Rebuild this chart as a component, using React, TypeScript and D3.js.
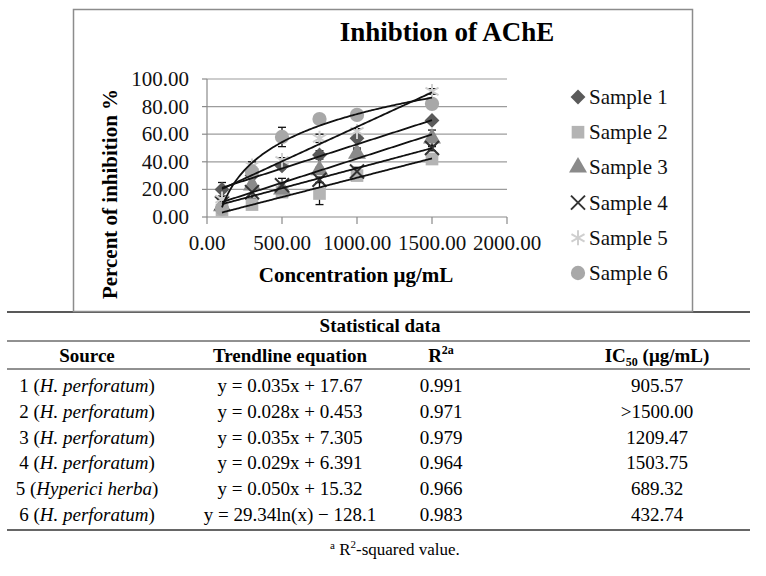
import { useRef, useEffect } from 'react';
import * as d3 from 'd3';

// ---------------------------------------------------------------------------
// Data
// ---------------------------------------------------------------------------
const CONCENTRATIONS = [100, 300, 500, 750, 1000, 1500];
const SAMPLE_NAMES = ['Sample 1', 'Sample 2', 'Sample 3', 'Sample 4', 'Sample 5', 'Sample 6'];

const SAMPLE_1 = [20, 30, 37, 45, 57, 70];
const SAMPLE_2 = [5, 9, 18, 17, 30, 42];
const SAMPLE_3 = [8, 23, 20, 34, 46, 57];
const SAMPLE_4 = [10, 18, 23, 27, 33, 50];
const SAMPLE_5 = [13, 37, 41, 57, 62, 91];
const SAMPLE_6 = [6, 33, 58, 71, 74, 82];

const ERR_1 = [5, 2, 2, 3, 7, 2];
const ERR_2 = [2, 2, 2, 8, 2, 2];
const ERR_3 = [2, 2, 2, 2, 3, 6];
const ERR_4 = [2, 4.5, 5, 2, 3, 2];
const ERR_5 = [2, 3, 2, 3, 2, 2];
const ERR_6 = [2, 2, 7, 2, 2, 2];

// linear trendlines (samples 1-5), log trendline (sample 6)
const SLOPES = [0.035, 0.028, 0.035, 0.029, 0.05];
const INTERCEPTS = [17.67, 0.453, 7.305, 6.391, 15.32];
const LOG_COEF = 29.34;
const LOG_CONST = -128.1;

const X_TICKS = [0, 500, 1000, 1500, 2000];
const Y_TICKS = [0, 20, 40, 60, 80, 100];

// table
const SOURCE_NUM = ['1', '2', '3', '4', '5', '6'];
const SOURCE_NAME = ['H. perforatum', 'H. perforatum', 'H. perforatum', 'H. perforatum', 'Hyperici herba', 'H. perforatum'];
const EQUATIONS = [
  'y = 0.035x + 17.67',
  'y = 0.028x + 0.453',
  'y = 0.035x + 7.305',
  'y = 0.029x + 6.391',
  'y = 0.050x + 15.32',
  'y = 29.34ln(x) \u2212 128.1',
];
const R2_VALUES = ['0.991', '0.971', '0.979', '0.964', '0.966', '0.983'];
const IC50_VALUES = ['905.57', '>1500.00', '1209.47', '1503.75', '689.32', '432.74'];

// ---------------------------------------------------------------------------
// Styles
// ---------------------------------------------------------------------------
const FONT = "'Liberation Serif', 'Times New Roman', serif";
const GRID = '#9c9c9c';
const AXIS = '#8a8a8a';

type Marker = { symbol: d3.SymbolType; size: number; fill: string; stroke: string; rotate: number };
const MARKERS: Marker[] = [
  { symbol: d3.symbolSquare, size: 110, fill: '#5a5a5a', stroke: 'none', rotate: 45 },
  { symbol: d3.symbolSquare, size: 160, fill: '#b4b4b4', stroke: 'none', rotate: 0 },
  { symbol: d3.symbolTriangle, size: 140, fill: '#8a8a8a', stroke: 'none', rotate: 0 },
  { symbol: d3.symbolX, size: 130, fill: 'none', stroke: '#333333', rotate: 0 },
  { symbol: d3.symbolAsterisk, size: 160, fill: 'none', stroke: '#cfcfcf', rotate: 0 },
  { symbol: d3.symbolCircle, size: 160, fill: '#a8a8a8', stroke: 'none', rotate: 0 },
];

function ChartAndTable() {
  const svgRef = useRef<SVGSVGElement>(null);

  useEffect(() => {
    const svgEl = svgRef.current;
    if (!svgEl) return;
    const svg = d3.select(svgEl);
    svg.selectAll('*').remove();

    const series = [SAMPLE_1, SAMPLE_2, SAMPLE_3, SAMPLE_4, SAMPLE_5, SAMPLE_6];
    const errors = [ERR_1, ERR_2, ERR_3, ERR_4, ERR_5, ERR_6];

    const x = d3.scaleLinear().domain([0, 2000]).range([207, 507]);
    const y = d3.scaleLinear().domain([0, 100]).range([217, 79]);

    // table top rule (under chart frame)
    svg.append('line')
      .attr('x1', 7).attr('x2', 750).attr('y1', 312).attr('y2', 312)
      .attr('stroke', '#222').attr('stroke-width', 1.5);

    // chart frame
    svg.append('rect')
      .attr('x', 73.5).attr('y', 9.5).attr('width', 619).attr('height', 302)
      .attr('fill', '#fff').attr('stroke', '#8c8c8c').attr('stroke-width', 1.5);

    // Title
    svg.append('text')
      .attr('x', 447).attr('y', 41)
      .attr('text-anchor', 'middle')
      .attr('font-family', FONT).attr('font-weight', 'bold').attr('font-size', 27)
      .text('Inhibtion of AChE');

    // Gridlines
    Y_TICKS.filter((t) => t > 0).forEach((t) => {
      svg.append('line')
        .attr('x1', x(0)).attr('x2', x(2000)).attr('y1', y(t)).attr('y2', y(t))
        .attr('stroke', GRID).attr('stroke-width', 1.2);
    });

    // Y axis
    svg.append('line')
      .attr('x1', x(0)).attr('x2', x(0)).attr('y1', y(0)).attr('y2', y(100))
      .attr('stroke', AXIS).attr('stroke-width', 1.2);
    Y_TICKS.forEach((t) => {
      svg.append('line')
        .attr('x1', x(0) - 5).attr('x2', x(0)).attr('y1', y(t)).attr('y2', y(t))
        .attr('stroke', AXIS).attr('stroke-width', 1.2);
      svg.append('text')
        .attr('x', 189).attr('y', y(t) + 7)
        .attr('text-anchor', 'end')
        .attr('font-family', FONT).attr('font-size', 21).attr('fill', '#111')
        .text(d3.format('.2f')(t));
    });

    // X axis
    svg.append('line')
      .attr('x1', x(0)).attr('x2', x(2000)).attr('y1', y(0)).attr('y2', y(0))
      .attr('stroke', AXIS).attr('stroke-width', 1.2);
    X_TICKS.forEach((t) => {
      svg.append('line')
        .attr('x1', x(t)).attr('x2', x(t)).attr('y1', y(0)).attr('y2', y(0) + 7)
        .attr('stroke', AXIS).attr('stroke-width', 1.2);
      svg.append('text')
        .attr('x', x(t)).attr('y', 250)
        .attr('text-anchor', 'middle')
        .attr('font-family', FONT).attr('font-size', 21).attr('fill', '#111')
        .text(d3.format('.2f')(t));
    });

    // Axis titles
    svg.append('text')
      .attr('x', 356).attr('y', 282)
      .attr('text-anchor', 'middle')
      .attr('font-family', FONT).attr('font-weight', 'bold').attr('font-size', 21)
      .text('Concentration \u03bcg/mL');
    svg.append('text')
      .attr('transform', 'translate(117,194) rotate(-90)')
      .attr('text-anchor', 'middle')
      .attr('font-family', FONT).attr('font-weight', 'bold').attr('font-size', 21)
      .text('Percent of inhibition %');

    // Error bars (behind the markers)
    series.forEach((vals, si) => {
      vals.forEach((v, i) => {
        const cx = x(CONCENTRATIONS[i]);
        const e = errors[si][i];
        const y1 = y(v + e);
        const y2 = y(v - e);
        const g = svg.append('g').attr('stroke', '#111').attr('stroke-width', 1.3);
        g.append('line').attr('x1', cx).attr('x2', cx).attr('y1', y1).attr('y2', y2);
        g.append('line').attr('x1', cx - 4).attr('x2', cx + 4).attr('y1', y1).attr('y2', y1);
        g.append('line').attr('x1', cx - 4).attr('x2', cx + 4).attr('y1', y2).attr('y2', y2);
      });
    });

    // Markers
    series.forEach((vals, si) => {
      const m = MARKERS[si];
      const sym = d3.symbol().type(m.symbol).size(m.size);
      vals.forEach((v, i) => {
        svg.append('path')
          .attr('d', sym() ?? '')
          .attr('transform', `translate(${x(CONCENTRATIONS[i])},${y(v)}) rotate(${m.rotate})`)
          .attr('fill', m.fill)
          .attr('stroke', m.stroke)
          .attr('stroke-width', 2);
      });
    });

    // Trendlines
    const xs = d3.range(100, 1501, 10);
    const line = d3.line<[number, number]>()
      .x((d) => x(d[0]))
      .y((d) => y(d[1]));
    SLOPES.forEach((s, i) => {
      svg.append('path')
        .attr('d', line(xs.map((c) => [c, s * c + INTERCEPTS[i]])) ?? '')
        .attr('fill', 'none').attr('stroke', '#111').attr('stroke-width', 1.8);
    });
    svg.append('path')
      .attr('d', line(xs.map((c) => [c, LOG_COEF * Math.log(c) + LOG_CONST])) ?? '')
      .attr('fill', 'none').attr('stroke', '#111').attr('stroke-width', 1.8);

    // Legend
    SAMPLE_NAMES.forEach((name, i) => {
      const ly = 97 + i * 35.2;
      const m = MARKERS[i];
      const sym = d3.symbol().type(m.symbol).size(m.size);
      svg.append('path')
        .attr('d', sym() ?? '')
        .attr('transform', `translate(578,${ly}) rotate(${m.rotate})`)
        .attr('fill', m.fill).attr('stroke', m.stroke).attr('stroke-width', 2);
      svg.append('text')
        .attr('x', 589).attr('y', ly + 7)
        .attr('font-family', FONT).attr('font-size', 21).attr('fill', '#111')
        .text(name);
    });

    // ------------------------------------------------------------------
    // Table
    // ------------------------------------------------------------------
    const TFS = 19;
    const COL_SRC = 87;
    const COL_EQ = 290;
    const COL_R2 = 441;
    const COL_IC = 657;

    svg.append('text')
      .attr('x', 380).attr('y', 332)
      .attr('text-anchor', 'middle')
      .attr('font-family', FONT).attr('font-weight', 'bold').attr('font-size', TFS)
      .text('Statistical data');
    svg.append('line')
      .attr('x1', 7).attr('x2', 750).attr('y1', 341).attr('y2', 341)
      .attr('stroke', '#222').attr('stroke-width', 1);

    const header = svg.append('g')
      .attr('font-family', FONT).attr('font-weight', 'bold').attr('font-size', TFS)
      .attr('text-anchor', 'middle');
    header.append('text').attr('x', COL_SRC).attr('y', 362).text('Source');
    header.append('text').attr('x', COL_EQ).attr('y', 362).text('Trendline equation');
    const r2h = header.append('text').attr('x', COL_R2).attr('y', 362);
    r2h.append('tspan').text('R');
    r2h.append('tspan').attr('font-size', 12).attr('dy', -8).text('2a');
    const ich = header.append('text').attr('x', COL_IC).attr('y', 362);
    ich.append('tspan').text('IC');
    ich.append('tspan').attr('font-size', 12).attr('dy', 4).text('50');
    ich.append('tspan').attr('dy', -4).text(' (\u03bcg/mL)');

    svg.append('line')
      .attr('x1', 7).attr('x2', 750).attr('y1', 369).attr('y2', 369)
      .attr('stroke', '#222').attr('stroke-width', 1);

    const body = svg.append('g')
      .attr('font-family', FONT).attr('font-size', TFS).attr('text-anchor', 'middle');
    SOURCE_NUM.forEach((num, i) => {
      const by = 392 + i * 25.8;
      const src = body.append('text').attr('x', COL_SRC).attr('y', by);
      src.append('tspan').text(`${num} (`);
      src.append('tspan').attr('font-style', 'italic').text(SOURCE_NAME[i]);
      src.append('tspan').text(')');
      body.append('text').attr('x', COL_EQ).attr('y', by).text(EQUATIONS[i]);
      body.append('text').attr('x', COL_R2).attr('y', by).text(R2_VALUES[i]);
      body.append('text').attr('x', COL_IC).attr('y', by).text(IC50_VALUES[i]);
    });

    svg.append('line')
      .attr('x1', 7).attr('x2', 750).attr('y1', 530).attr('y2', 530)
      .attr('stroke', '#333').attr('stroke-width', 1.5);

    const foot = svg.append('text')
      .attr('x', 330).attr('y', 555)
      .attr('font-family', FONT).attr('font-size', 17);
    foot.append('tspan').attr('font-size', 11).attr('dy', -6).text('a');
    foot.append('tspan').attr('dy', 6).text(' R');
    foot.append('tspan').attr('font-size', 11).attr('dy', -7).text('2');
    foot.append('tspan').attr('dy', 7).text('-squared value.');
  }, []);

  return <svg ref={svgRef} width={766} height={576} style={{ display: 'block' }} />;
}

export default function App() {
  return (
    <div style={{ position: 'absolute', left: 0, top: 0, width: 766, height: 576, background: '#fff' }}>
      <ChartAndTable />
    </div>
  );
}
